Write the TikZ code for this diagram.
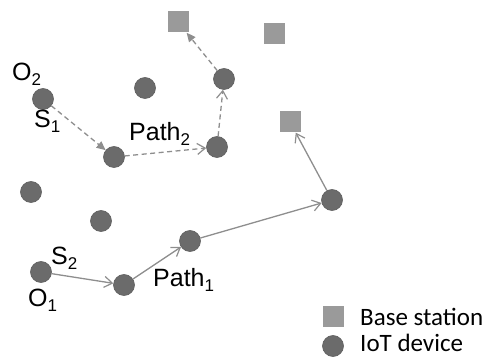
\documentclass[tikz,border=0pt]{standalone}
\usepackage{fontspec}
\setmainfont{Liberation Sans}
\newfontfamily\legendfont{Carlito}
\usetikzlibrary{arrows.meta}
\definecolor{devfill}{HTML}{6B6B6B}
\definecolor{devline}{HTML}{5E5E5E}
\definecolor{bsfill}{HTML}{9A9A9A}
\definecolor{linkgray}{HTML}{8E8E8E}
\newcommand\lowsub[1]{\raisebox{-5pt}{\fontsize{17}{20}\selectfont #1}}
\tikzset{
  device/.style={circle, fill=devfill, draw=devline, line width=0.6pt, minimum size=21pt, inner sep=0pt},
  station/.style={rectangle, fill=bsfill, draw=none, minimum size=21pt, inner sep=0pt},
  lbl/.style={anchor=base west, inner sep=0pt, font=\fontsize{25}{30}\selectfont},
  leg/.style={anchor=base west, inner sep=0pt, text depth=0pt, font=\legendfont\fontsize{25}{30}\selectfont},
  link/.style={draw=linkgray, line width=1.3pt, -{Straight Barb[length=8pt, width=11pt, line width=1.2pt]}},
  dlink/.style={link, dash pattern=on 5pt off 3.5pt},
  dlinkf/.style={draw=linkgray, line width=1.3pt, dash pattern=on 5pt off 3.5pt, -{Triangle[length=9pt, width=8pt]}}
}
\begin{document}
\begin{tikzpicture}[x=1pt, y=-1pt]
\useasboundingbox (0,0) rectangle (485,358);

% IoT devices
\node[device] (d1) at (43,99) {};
\node[device] (d2) at (145,88) {};
\node[device] (d3) at (114,157) {};
\node[device] (d4) at (217,147) {};
\node[device] (d5) at (224,79) {};
\node[device] (d6) at (31,192) {};
\node[device] (d7) at (101,221) {};
\node[device] (d8) at (41,272) {};
\node[device] (d9) at (124,285) {};
\node[device] (d10) at (190,241) {};
\node[device] (d11) at (332,200) {};

% base stations
\node[station] (b1) at (178,22) {};
\node[station] (b2) at (274.5,33.5) {};
\node[station] (b3) at (290,122) {};

% path 2 (dashed)
\draw[dlinkf] (d1) -- (d3);
\draw[dlink] (d3) -- (d4);
\draw[dlink] (d4) -- (d5);
\draw[dlinkf] (d5) -- (b1);

% path 1 (solid)
\draw[link] (d8) -- (d9);
\draw[link] (d9) -- (d10);
\draw[link] (d10) -- (d11);
\draw[link] (d11) -- (b3);

% labels
\node[lbl] (o2) at (12,81) {O\lowsub{2}};
\node[lbl] (s1) at (34,128) {S\lowsub{1}};
\node[lbl] (p2) at (129,141) {Path\lowsub{2}};
\node[lbl] (s2) at (51,265) {S\lowsub{2}};
\node[lbl] (o1) at (28,307) {O\lowsub{1}};
\node[lbl] (p1) at (153,287) {Path\lowsub{1}};

% legend
\node[station] (lgs) at (333.5,316.5) {};
\node[device] (lgd) at (333,346) {};
\node[leg] (lgst) at (360,326) {Base station};
\node[leg] (lgdt) at (360,352) {IoT device};
\end{tikzpicture}
\end{document}
